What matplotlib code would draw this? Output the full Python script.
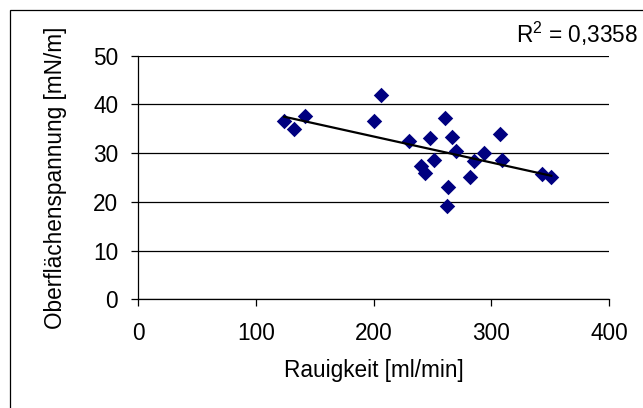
import numpy as np
import matplotlib
matplotlib.use("Agg")
import matplotlib.pyplot as plt
from matplotlib.patches import Rectangle

plt.rcParams['font.family'] = ['Liberation Sans', 'DejaVu Sans']
plt.rcParams['mathtext.fontset'] = 'custom'
plt.rcParams['mathtext.rm'] = 'Liberation Sans'
plt.rcParams['mathtext.it'] = 'Liberation Sans'

# Measured samples: roughness vs. surface tension
rauigkeit = [124, 132, 142, 206, 200, 230, 248, 261, 267, 270, 240, 244,
             251, 263, 262, 282, 285, 294, 307, 309, 343, 351]
spannung = [36.6, 34.9, 37.7, 42.0, 36.6, 32.4, 33.2, 37.2, 33.4, 30.5, 27.4, 25.9,
            28.6, 23.0, 19.2, 25.2, 28.4, 30.1, 34.0, 28.6, 25.7, 25.2]

x_ticks = [0, 100, 200, 300, 400]
y_ticks = [0, 10, 20, 30, 40, 50]
r2_label = "0,3358"

FS = 16.3

x = np.array(rauigkeit, dtype=float)
y = np.array(spannung, dtype=float)
slope, intercept = np.polyfit(x, y, 1)

W, H = 643, 408
fig = plt.figure(figsize=(W / 100, H / 100), dpi=100)
fig.patch.set_facecolor('white')

# chart-area frame
fig.patches.append(Rectangle((10 / W, -0.1), 1.2, (H - 10) / H + 0.1,
                             transform=fig.transFigure, fill=False,
                             edgecolor='black', linewidth=0.9))

ax = fig.add_axes([138.3 / W, (H - 299.3) / H, (609 - 138.3) / W, (299.3 - 55.7) / H])
ax.set_xlim(0, 400)
ax.set_ylim(0, 50)
ax.set_xticks(x_ticks)
ax.set_yticks(y_ticks)

for s in ['top', 'right']:
    ax.spines[s].set_visible(False)
for s in ['left', 'bottom']:
    ax.spines[s].set_color('black')
    ax.spines[s].set_linewidth(0.9)

ax.yaxis.grid(True, color='black', linewidth=0.9)
ax.set_axisbelow(True)
ax.tick_params(axis='both', direction='out', length=5, width=0.9,
               labelsize=FS, colors='black')
ax.tick_params(axis='y', pad=9.5)
ax.tick_params(axis='x', pad=11.3)

ax.scatter(x, y, marker='D', s=62, color='#000080', zorder=3, linewidths=0)

xf = np.array([x.min(), x.max()])
ax.plot(xf, slope * xf + intercept, color='black', linewidth=1.6, zorder=4)

ax.set_xlabel('Rauigkeit [ml/min]', fontsize=FS, labelpad=10.3)
ax.set_ylabel('Oberflächenspannung [mN/m]', fontsize=FS, labelpad=19)

fig.text(638 / W, 1 - 43.3 / H, r'R$^2$ = ' + r2_label, fontsize=FS,
         ha='right', va='baseline')

fig.savefig('out.png', dpi=100)
